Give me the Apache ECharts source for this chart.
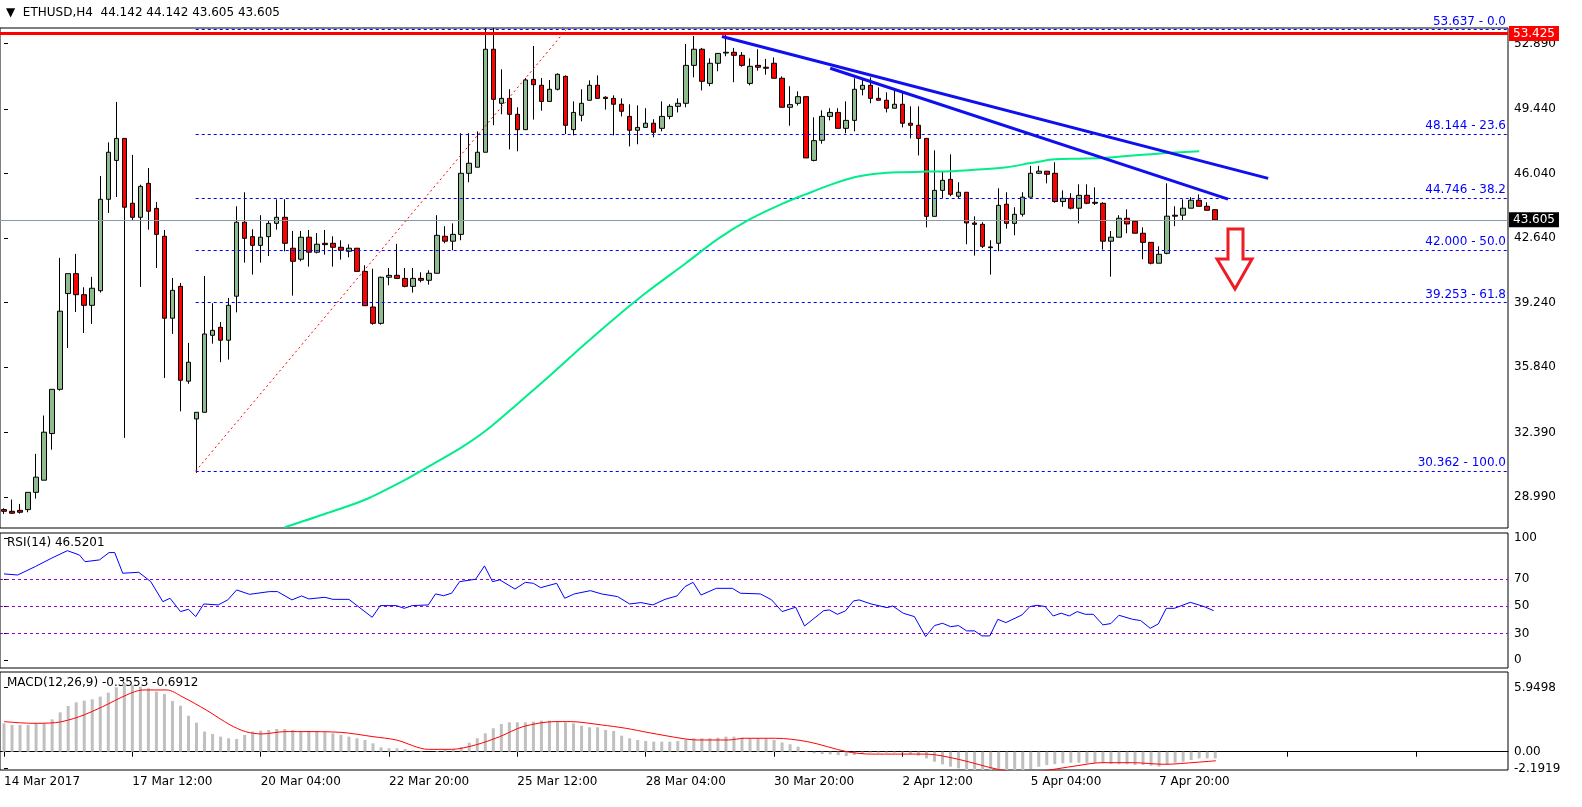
<!DOCTYPE html>
<html>
<head>
<meta charset="utf-8">
<script src="https://cdn.jsdelivr.net/npm/echarts@6/dist/echarts.min.js"></script>
<style>
html, body { margin: 0; padding: 0; background: #fff; overflow: hidden; }
#chart { width: 1582px; height: 807px; }
</style>
</head>
<body>
<div id="chart"></div>
<script>
// ETHUSD H4 candles (index = bar number)
var opens = [28.33,28.24,28.29,28.33,29.24,29.88,32.34,34.67,39.72,40.77,39.66,39.10,39.87,44.69,46.74,47.90,44.48,43.74,45.53,44.21,
  42.74,38.42,40.10,35.10,33.11,33.46,37.52,37.94,37.26,39.58,43.48,42.72,42.26,42.72,43.42,43.74,42.11,41.53,42.69,41.90,
  42.37,42.37,42.16,41.95,42.11,40.89,39.01,38.15,40.58,40.68,40.52,40.10,40.52,40.42,40.79,42.74,42.48,42.84,46.06,46.38,
  47.17,52.60,49.75,50.01,49.17,48.36,51.01,50.70,49.85,50.49,51.17,48.36,49.12,49.91,50.70,50.07,50.01,49.70,49.06,48.33,
  48.48,48.70,48.43,49.06,49.59,49.75,51.75,52.60,50.80,51.86,52.40,52.44,52.28,50.80,51.75,51.65,51.86,51.07,49.54,49.75,
  50.10,46.74,47.80,49.06,49.27,48.43,48.85,50.49,50.70,50.01,49.91,49.49,49.70,48.70,48.59,47.90,43.79,45.16,45.74,44.85,
  45.06,43.44,43.37,42.18,42.37,44.43,43.42,43.90,44.80,46.06,46.17,46.06,44.57,44.74,44.22,44.90,44.53,44.48,42.48,42.69,
  43.69,43.53,42.90,42.42,41.32,41.84,43.85,43.85,44.22,44.64,44.32,44.142];
var highs = [28.40,28.86,28.63,29.25,31.27,33.29,34.67,41.60,40.77,41.81,40.05,40.60,45.92,47.69,49.82,47.90,47.03,45.46,46.34,44.55,
  43.07,40.54,40.28,37.12,33.46,40.65,39.21,38.22,39.49,44.32,45.06,43.11,43.85,43.56,44.69,44.69,43.02,43.02,43.07,42.91,
  43.07,42.74,42.53,42.32,42.11,41.21,41.03,40.61,41.07,42.34,41.07,41.07,40.84,40.95,43.85,43.27,43.42,48.17,48.17,48.27,
  53.72,53.72,51.54,50.49,49.54,51.08,52.77,51.08,50.98,51.33,51.22,49.85,50.49,50.96,51.22,50.12,50.17,50.01,49.70,49.64,
  49.49,48.91,49.85,49.70,50.01,52.88,53.30,52.67,52.12,52.38,53.37,52.67,52.45,52.12,52.60,52.09,52.17,51.17,50.65,50.38,
  50.10,49.01,49.38,49.49,49.49,49.85,51.07,51.07,51.12,50.59,50.33,50.54,50.38,49.59,49.59,47.90,47.27,46.17,47.06,45.59,
  45.06,43.79,43.48,42.53,45.27,45.06,44.27,45.06,46.45,46.45,46.17,46.64,45.16,45.01,45.48,45.48,45.32,44.53,43.02,43.85,
  44.16,43.53,43.21,42.42,42.21,45.53,44.32,44.69,44.80,44.95,44.53,44.142];
var lows = [28.10,28.10,28.12,28.19,28.91,29.88,31.49,34.60,36.85,38.75,37.64,38.12,39.77,43.97,44.81,32.11,43.55,40.07,43.09,41.07,
  35.27,37.59,33.51,34.96,30.27,33.46,37.08,36.10,36.24,38.73,41.35,40.72,41.35,41.70,43.09,41.95,39.61,41.42,41.14,41.84,
  41.77,41.14,41.51,41.63,40.89,39.08,38.08,38.08,40.16,40.52,40.05,39.77,40.31,40.19,40.79,42.37,42.00,42.53,45.59,46.38,
  47.17,48.59,49.17,47.32,47.22,48.36,48.89,49.36,49.85,50.43,48.13,48.06,48.80,49.91,50.01,49.42,48.06,49.06,47.48,47.59,
  48.48,47.96,48.27,48.91,49.27,49.54,51.12,50.43,50.65,51.44,52.23,50.86,51.68,50.70,51.47,51.26,51.07,49.54,48.57,49.63,
  46.87,46.69,47.62,48.85,48.43,48.17,48.27,50.17,49.75,49.91,49.27,49.49,48.48,47.90,47.00,43.21,43.79,44.76,44.85,44.74,
  42.32,41.72,42.12,40.72,41.95,43.14,42.79,43.78,44.80,46.02,45.53,44.51,44.30,44.16,43.42,44.43,44.39,42.04,40.61,42.69,
  42.90,42.90,41.53,41.26,41.32,41.79,43.27,43.58,44.22,44.32,44.11,43.605];
var closes = [28.24,28.14,28.19,29.24,30.04,32.41,34.67,38.79,40.77,39.66,39.10,40.00,44.69,47.17,47.90,44.27,43.74,45.37,44.06,42.84,
  38.42,39.89,35.15,36.10,33.46,37.59,37.78,37.26,39.10,43.48,42.63,42.26,42.69,43.42,43.74,42.37,41.42,42.69,41.90,42.32,
  42.30,42.16,42.00,42.11,40.89,39.08,38.15,40.58,40.68,40.52,40.10,40.52,40.42,40.79,42.79,42.48,42.84,46.06,46.59,47.17,
  52.60,49.96,50.01,49.17,48.36,50.98,50.73,49.85,50.49,51.28,48.59,49.27,49.75,50.70,50.01,50.00,49.70,49.33,48.33,48.48,
  48.70,48.22,49.06,49.59,49.75,51.75,52.60,50.91,51.86,52.38,52.44,52.28,51.75,51.70,51.65,51.60,51.07,49.54,49.68,50.10,
  46.87,47.78,49.06,49.27,48.43,48.85,50.49,50.70,50.01,49.91,49.49,49.70,48.70,48.59,47.90,43.79,45.16,45.69,44.95,45.06,
  43.44,43.37,42.21,42.14,44.37,43.42,43.90,44.80,46.06,46.17,46.01,44.57,44.74,44.22,44.90,44.48,44.48,42.48,42.69,43.69,
  43.39,42.90,42.42,41.32,41.79,43.80,43.80,44.22,44.64,44.32,44.11,43.605];

// moving average (green), points read as [bar, price]
var maPts = [[35,27.4],[40,28.1],[45,28.85],[50,29.9],[53,30.62],[57,31.6],[60,32.47],[64,33.9],[68,35.37],[72,36.9],
  [76,38.37],[80,39.75],[85,41.32],[89,42.6],[93,43.64],[97,44.45],[100,44.96],[103,45.45],[106,45.85],[109,46.05],
  [112,46.12],[115,46.15],[118,46.17],[121,46.25],[125,46.38],[128,46.6],[131,46.8],[134,46.83],[137,46.86],[140,46.97],
  [143,47.07],[146,47.15],[149,47.22]];

// drawn objects
var trend1 = [[89.5,53.27],[157.6,45.79]];
var trend2 = [[103,51.6],[152.6,44.7]];
var fibDiag = [[23.9,30.362],[70.1,53.637]];
var fibLevels = [53.637,48.144,44.746,42.0,39.253,30.362];
var fibNames = ['0.0','23.6','38.2','50.0','61.8','100.0'];
var resistance = 53.425;
var lastPrice = 43.605;
var priceTicks = [52.890,49.440,46.040,42.640,39.240,35.840,32.390,28.990];

// RSI(14), points read as [bar, value]
var rsiPts = [[0,73.8],[1.7,73],[3.9,79.2],[5.9,85.3],[7.9,90.9],[9.4,87.7],[10.1,82.8],[11.9,84.1],[13.1,89.5],[13.8,89.5],
  [14.8,74.3],[16.8,75],[18.3,68.1],[19.8,53.4],[20.7,55.9],[22,46.1],[23,47.8],[23.9,42.4],[24.9,51.7],[26.7,51],
  [27.9,54.7],[29,62],[30.6,58.8],[33.1,60.8],[34.1,60.8],[35.9,54.7],[37.1,57.6],[38,55.4],[40,56.6],[41,55.1],
  [43,55.1],[45.9,41.9],[46.9,50.5],[48.9,50.5],[49.9,48.5],[50.9,50.5],[52.9,51],[53.8,59.1],[54.8,57.8],[55.8,59.6],
  [56.8,68.1],[58.8,69.9],[59.9,79.7],[60.9,68.1],[61.8,69.4],[63.7,62.7],[65,67.6],[66,66.9],[66.9,63.7],[68.9,66.9],
  [69.9,55.9],[71.1,59.1],[73.1,61.5],[74.5,59.1],[76.5,57.1],[78,51.7],[79.4,52.7],[80.9,51],[82.4,55.1],[83.9,57.6],
  [84.9,64.5],[85.9,67.6],[86.9,58.3],[88.8,63.2],[90.8,63.2],[91.8,59.6],[94.3,59.1],[95.7,54.7],[97,46.1],[98.7,49.3],
  [99.8,35.5],[102.2,46.8],[102.9,47.3],[103.9,44.1],[104.9,46.6],[105.9,53.9],[106.6,54.7],[108.1,51.7],[110.1,49],[110.8,50.2],
  [112.1,44.9],[113.5,42.4],[114.9,27.7],[116,35.8],[117,37.5],[118,35],[119,35.8],[120,31.9],[121,31.9],[121.9,28.2],
  [122.9,28.2],[123.9,40.4],[124.9,38],[126.9,43.6],[127.9,49.8],[128.8,50.7],[129.8,49.8],[130.8,42.9],[131.8,44.9],[132.8,42.9],
  [133.8,46.1],[134.8,44.1],[135.8,44.1],[137,36.3],[138,37.3],[139,43.4],[140.7,40.4],[141.7,39.5],[142.9,33.8],[143.9,37],
  [144.9,48.5],[145.9,48.5],[147.9,52.9],[149.6,49.8],[150.8,46.8]];
var rsiLevels = [70,50,30];

// MACD(12,26,9) histogram per bar and signal line points
var macdHist = [2.64,2.49,2.49,2.49,2.64,2.64,3.01,3.66,4.25,4.59,4.75,4.87,5.12,5.49,5.99,6.36,6.2,6.05,5.9,5.59,
  5.37,4.72,4.28,3.35,2.7,1.87,1.65,1.4,1.25,1.18,1.56,1.87,1.96,2.02,2.11,2.11,2.02,1.93,1.93,1.87,
  1.8,1.71,1.56,1.4,1.25,1.09,0.78,0.41,0.32,0.32,0.25,0.16,0.1,0.0,0.07,0.16,0.22,0.41,0.84,1.25,
  1.71,2.18,2.58,2.73,2.73,2.73,2.8,2.89,2.89,2.8,2.73,2.64,2.42,2.27,2.27,
  2.02,1.93,1.49,1.25,1.09,0.99,0.93,0.93,0.93,0.99,1.15,1.25,1.25,1.25,1.31,1.4,1.4,1.31,1.25,1.25,
  1.18,1.09,0.87,0.69,0.47,0.09,-0.15,-0.22,-0.24,-0.31,-0.4,-0.31,-0.22,-0.09,-0.09,-0.09,-0.09,-0.09,-0.22,-0.37,
  -0.62,-0.93,-1.17,-1.39,-1.55,-1.7,-1.86,-2.07,-2.17,-2.07,-1.86,-1.86,-1.7,-1.61,-1.39,-1.24,-1.15,-1.08,-1.02,-1.02,
  -1.08,-1.08,-1.08,-1.15,-1.17,-1.17,-1.24,-1.24,-1.3,-1.39,-1.17,-1.02,-0.93,-0.78,-0.62,-0.62,-0.62];
var signalPts = [[0,2.8],[3.5,2.64],[6.4,2.7],[9.4,3.26],[12.3,4.19],[15.3,5.28],[17.3,5.74],[20.3,5.74],[22.2,5.12],[25.2,3.88],
  [28.2,2.49],[30.1,1.87],[32.1,1.65],[35.1,1.87],[37.1,1.87],[42,1.8],[46,1.4],[48.9,1.09],[52.9,0.22],[55.8,0.22],
  [58.8,0.63],[61.8,1.4],[64.7,2.33],[68.7,2.8],[70.6,2.8],[74.5,2.49],[77.5,2.18],[80.4,1.77],[84.4,1.25],[86.4,1.09],
  [90.3,1.09],[92.3,1.25],[96.2,1.25],[100.2,0.93],[105.1,0],[108.1,-0.22],[115,-0.22],[119,-0.71],[123.9,-1.64],[126.9,-1.92],
  [128.8,-1.86],[133.8,-1.3],[136.8,-1.02],[140.7,-1.02],[144.7,-1.17],[148.6,-0.99],[151.1,-0.84]];

var dateLabels = ['14 Mar 2017','17 Mar 12:00','20 Mar 04:00','22 Mar 20:00','25 Mar 12:00',
  '28 Mar 04:00','30 Mar 20:00','2 Apr 12:00','5 Apr 04:00','7 Apr 20:00'];
var barsPerLabel = 16;
var slots = 188;

var FONT = 'DejaVu Sans';
var cats = [];
for (var i = 0; i < slots; i++) cats.push(String(i));
var candles = opens.map(function(o, i) { return [o, closes[i], lows[i], highs[i]]; });

var grids = [
  { left: 0, right: 74, top: 28, height: 500 },
  { left: 0, right: 74, top: 533, height: 135 },
  { left: 0, right: 74, top: 672, height: 98 }
];
grids.forEach(function(g) { g.show = true; g.borderColor = '#000'; g.borderWidth = 1; g.backgroundColor = '#fff'; });

function catAxis(gi, shown) {
  return {
    type: 'category', gridIndex: gi, data: cats, boundaryGap: true,
    axisLine: { show: shown, lineStyle: { color: '#000' } },
    axisTick: { show: shown, length: 5, interval: function(idx) { return idx % barsPerLabel === 0; }, alignWithLabel: true, lineStyle: { color: '#000' } },
    axisLabel: {
      show: shown, interval: function(idx) { return idx % barsPerLabel === 0 && idx / barsPerLabel < dateLabels.length; },
      formatter: function(v, idx) { return dateLabels[idx / barsPerLabel] || ''; },
      align: 'left', margin: 6, color: '#000', fontFamily: FONT, fontSize: 12
    },
    splitLine: { show: false }
  };
}
function valAxis(gi) {
  return { type: 'value', gridIndex: gi, min: -0.5, max: slots - 0.5, show: false };
}
function rightAxis(gi, min, max, ticks, fmt) {
  return {
    type: 'value', gridIndex: gi, position: 'right', min: min, max: max, scale: true,
    axisLine: { show: false }, splitLine: { show: false },
    axisTick: { show: true, length: 4, customValues: ticks, lineStyle: { color: '#000' } },
    axisLabel: { customValues: ticks, formatter: fmt, color: '#000', fontFamily: FONT, fontSize: 12, margin: 6 }
  };
}

function segLine(pts, color, width, type, xi, yi) {
  return { type: 'line', xAxisIndex: xi, yAxisIndex: yi, data: pts, symbol: 'none', silent: true,
    lineStyle: { color: color, width: width, type: type }, z: 5 };
}

var fibMarks = fibLevels.map(function(v, k) {
  return [{ coord: [23.9, v] }, { coord: [slots - 0.5, v],
    label: { show: true, position: 'insideEndTop', formatter: v.toFixed(3) + ' - ' + fibNames[k], color: '#0000ff', fontFamily: FONT, fontSize: 12, distance: 2 } }];
});

var diag = segLine(fibDiag, '#ff0000', 1, [2, 3], 1, 0);
diag.markLine = {
  silent: true, symbol: 'none', animation: false,
  lineStyle: { color: '#0000ff', width: 1, type: [3, 3] },
  data: fibMarks.concat([
    [{ coord: [-0.5, resistance], lineStyle: { color: '#ff0000', width: 3, type: 'solid' } },
     { coord: [slots - 0.5, resistance], label: { show: true, position: 'end', formatter: resistance.toFixed(3), color: '#fff', backgroundColor: '#ff0000', padding: [2, 4, 1, 4], fontFamily: FONT, fontSize: 12, distance: 1 } }],
    [{ coord: [-0.5, lastPrice], lineStyle: { color: '#8a9aa8', width: 1, type: 'solid' } },
     { coord: [slots - 0.5, lastPrice], label: { show: true, position: 'end', formatter: lastPrice.toFixed(3), color: '#fff', backgroundColor: '#000', padding: [2, 4, 1, 4], fontFamily: FONT, fontSize: 12, distance: 1 } }]
  ])
};

var rsiLine = segLine(rsiPts, '#0000ff', 1, 'solid', 3, 1);
rsiLine.markLine = {
  silent: true, symbol: 'none', animation: false, label: { show: false },
  lineStyle: { color: '#9400d3', width: 1, type: [3, 3] },
  data: rsiLevels.map(function(v) { return { yAxis: v }; })
};

var option = {
  animation: false,
  backgroundColor: '#fff',
  grid: grids,
  xAxis: [catAxis(0, false), valAxis(0), catAxis(1, false), valAxis(1), catAxis(2, true), valAxis(2)],
  yAxis: [
    rightAxis(0, 27.36, 53.72, priceTicks, function(v) { return v.toFixed(3); }),
    rightAxis(1, 4.6, 103.9, [100, 70, 50, 30, 10.5], function(v) { return v < 20 ? '0' : String(v); }),
    rightAxis(2, -1.70, 7.41, [5.9498, 0, -1.55], function(v) { return v > 5 ? '5.9498' : (v < -1 ? '-2.1919' : '0.00'); })
  ],
  series: [
    {
      type: 'candlestick', xAxisIndex: 0, yAxisIndex: 0, data: candles, barWidth: 5,
      itemStyle: { color: '#8fbc8f', color0: '#ff0000', borderColor: '#000', borderColor0: '#000', borderWidth: 1 }, z: 4
    },
    Object.assign(segLine(maPts, '#00ee8a', 2, 'solid', 1, 0), { smooth: 0.3 }),
    segLine(trend1, '#1010ee', 3, 'solid', 1, 0),
    segLine(trend2, '#1010ee', 3, 'solid', 1, 0),
    diag,
    rsiLine,
    { type: 'bar', xAxisIndex: 4, yAxisIndex: 2, data: macdHist, barWidth: 3, itemStyle: { color: '#c0c0c0' }, silent: true },
    Object.assign(segLine(signalPts, '#ff0000', 1, 'solid', 5, 2), { smooth: 0.3 })
  ],
  graphic: [
    { type: 'text', left: 6, top: 7, style: { text: '\u25BC  ETHUSD,H4  44.142 44.142 43.605 43.605', fontFamily: FONT, fontSize: 12, fill: '#000' } },
    { type: 'text', left: 7, top: 537, style: { text: 'RSI(14) 46.5201', fontFamily: FONT, fontSize: 12, fill: '#000' } },
    { type: 'text', left: 7, top: 677, style: { text: 'MACD(12,26,9) -0.3553 -0.6912', fontFamily: FONT, fontSize: 12, fill: '#000' } },
    { type: 'polygon', shape: { points: [[1228, 229], [1243, 229], [1243, 259], [1252, 259], [1235, 289], [1217, 259], [1228, 259]] },
      style: { fill: '#fff', stroke: '#ee1c25', lineWidth: 3 }, z: 10 }
  ]
};

var chart = echarts.init(document.getElementById('chart'));
chart.setOption(option);
</script>
</body>
</html>
